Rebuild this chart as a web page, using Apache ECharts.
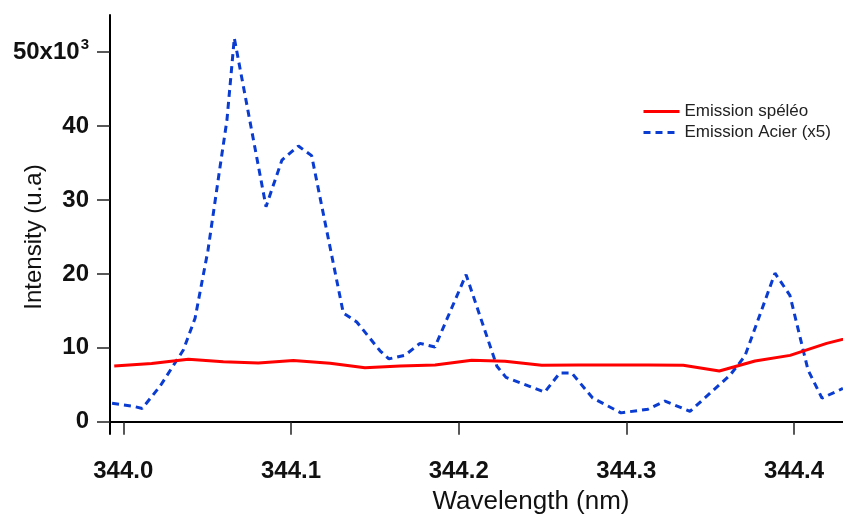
<!DOCTYPE html>
<html lang="fr">
<head>
    <meta charset="UTF-8">
    <title>Emission spéléo / Acier</title>
    <script src="https://cdn.jsdelivr.net/npm/echarts@6/dist/echarts.min.js"></script>
    <style>
        html, body { margin: 0; padding: 0; background: #fff; }
    </style>
</head>
<body>
    <div id="main" style="width: 843px; height: 517px;"></div>

    <script>
        // Emission spéléo (solid red)
        var redWl = [343.9946, 344.0169, 344.0388, 344.0596, 344.0805, 344.1014, 344.1233, 344.1441,
                     344.1650, 344.1859, 344.2078, 344.2276, 344.2495, 344.2713, 344.2922, 344.3131,
                     344.3339, 344.3554, 344.3767, 344.3976, 344.4194, 344.4405];
        var redVal = [7540, 7880, 8440, 8120, 7940, 8280, 7900, 7310,
                      7540, 7670, 8310, 8170, 7630, 7670, 7670, 7670,
                      7630, 6860, 8210, 8980, 10600, 11800];

        // Emission Acier (x5) (dashed blue)
        var blueWl = [343.9933, 344.0058, 344.0113, 344.0219, 344.0358, 344.0428, 344.0505, 344.0577,
                      344.0618, 344.0662, 344.0851, 344.0946, 344.1044, 344.1123, 344.1312, 344.1392,
                      344.1531, 344.1584, 344.1680, 344.1769, 344.1858, 344.2044, 344.2228, 344.2282,
                      344.2513, 344.2603, 344.2674, 344.2799, 344.2968, 344.3129, 344.3230, 344.3379,
                      344.3618, 344.3707, 344.3886, 344.3975, 344.4083, 344.4166, 344.4291];
        var blueVal = [2500, 2100, 1800, 4800, 9700, 14000, 23200, 34500,
                       40800, 51900, 29100, 35400, 37300, 36000, 14700, 13500,
                       9600, 8500, 9000, 10600, 10100, 19900, 7500, 6000,
                       4000, 6600, 6600, 3200, 1200, 1700, 2800, 1400,
                       6300, 8900, 20100, 17100, 7000, 3200, 4500];

        var xTicks = [344.0, 344.1, 344.2, 344.3, 344.4];
        var yTicks = [0, 10000, 20000, 30000, 40000, 50000];

        var chart = echarts.init(document.getElementById('main'));

        var pairs = function (xs, ys) {
            return xs.map(function (x, i) { return [x, ys[i]]; });
        };

        var font = 'Liberation Sans, Arial, sans-serif';

        var option = {
            animation: false,
            grid: { left: 110, right: 0, top: 15, bottom: 83 },
            legend: {
                orient: 'vertical',
                left: 642,
                top: 101,
                padding: 0,
                itemGap: 0,
                itemWidth: 36,
                itemHeight: 14,
                itemStyle: { opacity: 0 },
                lineStyle: { width: 3 },
                data: ['Emission spéléo', 'Emission Acier (x5)'],
                textStyle: { fontFamily: font, fontSize: 17, color: '#222', lineHeight: 21 }
            },
            xAxis: {
                type: 'value',
                min: 343.99207,
                max: 344.42916,
                splitLine: { show: false },
                axisLine: { lineStyle: { color: '#000', width: 2 } },
                axisTick: {
                    customValues: xTicks,
                    length: 13,
                    lineStyle: { color: '#222', width: 1.5 }
                },
                axisLabel: {
                    customValues: xTicks,
                    margin: 25,
                    fontFamily: font,
                    fontSize: 24,
                    fontWeight: 'bold',
                    color: '#111',
                    formatter: function (v) { return v.toFixed(1); }
                }
            },
            yAxis: {
                type: 'value',
                min: -1660,
                max: 55030,
                splitLine: { show: false },
                axisLine: { show: true, lineStyle: { color: '#000', width: 2 } },
                axisTick: {
                    show: true,
                    customValues: yTicks,
                    length: 13,
                    lineStyle: { color: '#222', width: 1.5 }
                },
                axisLabel: {
                    customValues: yTicks,
                    margin: 21,
                    fontFamily: font,
                    fontSize: 24,
                    fontWeight: 'bold',
                    color: '#111',
                    formatter: function (v) {
                        return v === 50000 ? '50x10{s|3}' : String(v / 1000);
                    },
                    rich: {
                        s: {
                            fontFamily: font,
                            fontSize: 15,
                            fontWeight: 'bold',
                            color: '#111',
                            padding: [0, 0, 14, 1]
                        }
                    }
                }
            },
            graphic: [
                {
                    type: 'text',
                    x: 531, y: 502,
                    style: {
                        text: 'Wavelength (nm)',
                        fontFamily: font, fontSize: 26, fill: '#111',
                        align: 'center', verticalAlign: 'middle'
                    }
                },
                {
                    type: 'text',
                    x: 34, y: 237,
                    rotation: Math.PI / 2,
                    style: {
                        text: 'Intensity (u.a)',
                        fontFamily: font, fontSize: 24, fill: '#111',
                        align: 'center', verticalAlign: 'middle'
                    }
                }
            ],
            series: [
                {
                    name: 'Emission Acier (x5)',
                    type: 'line',
                    symbol: 'none',
                    data: pairs(blueWl, blueVal),
                    lineStyle: { color: '#0a3cd2', width: 3, type: [7, 5] },
                    itemStyle: { color: '#0a3cd2' }
                },
                {
                    name: 'Emission spéléo',
                    type: 'line',
                    symbol: 'none',
                    data: pairs(redWl, redVal),
                    lineStyle: { color: '#ff0000', width: 3 },
                    itemStyle: { color: '#ff0000' }
                }
            ]
        };

        chart.setOption(option);
    </script>
</body>
</html>
